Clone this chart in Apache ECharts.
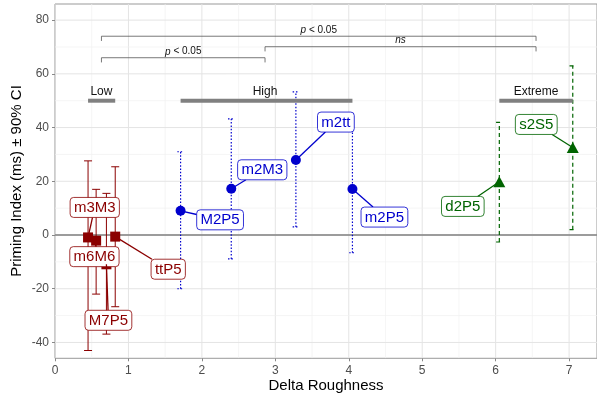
<!DOCTYPE html>
<html><head><meta charset="utf-8">
<script src="https://cdn.jsdelivr.net/npm/echarts@6/dist/echarts.min.js"></script>
<style>html,body{margin:0;padding:0;background:#fff}#c{width:597px;height:398px}</style>
</head><body><div id="c"></div>
<script>
// ---------------- data ----------------
const xTicks = [0, 1, 2, 3, 4, 5, 6, 7];
const yTicks = [-40, -20, 0, 20, 40, 60, 80];

const groupNames = ['Low', 'High', 'Extreme'];

const lowNames  = ['m3M3', 'm6M6', 'M7P5', 'ttP5'];
const lowX      = [0.45, 0.56, 0.70, 0.82];
const lowY      = [-0.9, -2.1, -10.9, -0.6];
const lowLower  = [-43.0, -22.0, -36.9, -26.7];
const lowUpper  = [27.6, 17.0, 15.5, 25.4];

const highNames = ['M2P5', 'm2M3', 'm2tt', 'm2P5'];
const highX     = [1.71, 2.40, 3.28, 4.05];
const highY     = [9.0, 17.2, 27.9, 17.1];
const highLower = [-20.0, -8.9, 3.0, -6.6];
const highUpper = [31.0, 43.2, 53.3, 41.6];

const extremeNames = ['d2P5', 's2S5'];
const extremeX     = [6.05, 7.05];
const extremeY     = [19.8, 32.6];
const extremeLower = [-2.6, 2.0];
const extremeUpper = [41.9, 63.0];

const comparisonFrom = ['Low', 'High', 'Low'];
const comparisonTo   = ['High', 'Extreme', 'Extreme'];
const comparisonText = ['p < 0.05', 'ns', 'p < 0.05'];

// ---------------- layout / style ----------------
const X_MIN = 0, X_MAX = 7.38, Y_MIN = -45.9, Y_MAX = 86.0;
const GROUP_BAR_LEVEL = 50;
const BRACKET_LEVELS = [66.0, 70.1, 74.0];
const LABEL_OFFSETS = {
  Low: [[6.7, -30], [-1.7, 16], [2, 56], [53, 32.6]],
  High: [[39.5, 9], [31, -19], [40, -38], [32, 28]],
  Extreme: [[-36.5, 24.6], [-36.5, -23]]
};
const FONT = '"Liberation Sans", Arial, Helvetica, sans-serif';
const COLORS = { Low: '#8b0000', High: '#0000cd', Extreme: '#006400' };
const SYMBOLS = { Low: ['rect', 10], High: ['circle', 10], Extreme: ['triangle', [12, 11]] };
const ERR_STYLE = { Low: [null, 8, 1], High: [[1.5, 1.8], 6.5, 1.2], Extreme: [[4, 3], 6.5, 1.2] };

const groups = {
  Low: { names: lowNames, x: lowX, y: lowY, lo: lowLower, hi: lowUpper },
  High: { names: highNames, x: highX, y: highY, lo: highLower, hi: highUpper },
  Extreme: { names: extremeNames, x: extremeX, y: extremeY, lo: extremeLower, hi: extremeUpper }
};

const mean = a => a.reduce((s, v) => s + v, 0) / a.length;

const measureCtx = document.createElement('canvas').getContext('2d');
function textWidth(t, font) { measureCtx.font = font; return measureCtx.measureText(t).width; }

// grid lines derived from tick arrays
const gridData = [];
xTicks.forEach(v => gridData.push([v, 0, 1]));
xTicks.forEach(v => { const m = v + 0.5; if (m < X_MAX) gridData.push([m, 0, 0]); });
yTicks.forEach(v => gridData.push([0, v, 1, 1]));
[yTicks[0] - 10].concat(yTicks.map(v => v + 10)).forEach(v => { if (v > Y_MIN && v < Y_MAX) gridData.push([0, v, 0, 1]); });

const series = [];

series.push({
  type: 'custom', name: 'grid', z: 1, silent: true, clip: true,
  data: gridData.map(d => d.length === 4 ? [d[0], d[1], d[2], 1] : [d[0], 0, d[2], 0]),
  renderItem(params, api) {
    const isY = api.value(3) === 1, major = api.value(2) === 1;
    const cs = params.coordSys;
    let shape;
    if (!isY) { const p = api.coord([api.value(0), 0])[0]; shape = { x1: p, y1: cs.y, x2: p, y2: cs.y + cs.height }; }
    else { const p = api.coord([0, api.value(1)])[1]; shape = { x1: cs.x, y1: p, x2: cs.x + cs.width, y2: p }; }
    return { type: 'line', shape, style: { stroke: major ? '#e4e4e4' : '#f1f1f1', lineWidth: major ? 1 : 0.7 } };
  }
});

// zero reference line
series.push({
  type: 'custom', name: 'zero', z: 2, silent: true,
  data: [[0, 0]],
  renderItem(params, api) {
    const cs = params.coordSys; const p = api.coord([0, api.value(1)])[1];
    return { type: 'line', shape: { x1: cs.x, y1: p, x2: cs.x + cs.width, y2: p }, style: { stroke: '#808080', lineWidth: 1.4 } };
  }
});

groupNames.forEach(g => {
  const d = groups[g]; const col = COLORS[g]; const es = ERR_STYLE[g];
  // error bars
  series.push({
    type: 'custom', name: g + ' CI', z: 3, silent: true, clip: true,
    encode: { x: 0, y: [1, 2] },
    data: d.x.map((x, i) => [x, d.lo[i], d.hi[i]]),
    renderItem(params, api) {
      const x = api.value(0);
      const a = api.coord([x, api.value(1)]), b = api.coord([x, api.value(2)]);
      const st = { stroke: col, lineWidth: es[2], lineDash: es[0] || null };
      const c = es[1] / 2;
      return { type: 'group', children: [
        { type: 'line', shape: { x1: a[0], y1: a[1], x2: b[0], y2: b[1] }, style: st },
        { type: 'line', shape: { x1: b[0] - c, y1: b[1], x2: b[0] + c, y2: b[1] }, style: st },
        { type: 'line', shape: { x1: a[0] - c, y1: a[1], x2: a[0] + c, y2: a[1] }, style: st }
      ] };
    }
  });
  // points
  series.push({
    type: 'scatter', name: g, z: 5, silent: true,
    symbol: SYMBOLS[g][0], symbolSize: SYMBOLS[g][1],
    itemStyle: { color: col, opacity: 1 },
    data: d.x.map((x, i) => [x, d.y[i]])
  });
  // repelled labels
  const offs = LABEL_OFFSETS[g];
  const lf = '15px ' + FONT;
  series.push({
    type: 'custom', name: g + ' labels', z: 6, silent: true, clip: false,
    data: d.x.map((x, i) => [x, d.y[i], i]),
    renderItem(params, api) {
      const i = api.value(2); const name = d.names[i];
      const p = api.coord([api.value(0), api.value(1)]);
      const cx = p[0] + offs[i][0], cy = p[1] + offs[i][1];
      const w = textWidth(name, lf) + 7.6, h = 20;
      const vx = cx - p[0], vy = cy - p[1];
      const s = Math.min(vx ? (w / 2) / Math.abs(vx) : Infinity, vy ? (h / 2) / Math.abs(vy) : Infinity);
      const children = [];
      if (s < 1) children.push({ type: 'line', shape: { x1: p[0], y1: p[1], x2: cx - s * vx, y2: cy - s * vy }, style: { stroke: col, lineWidth: 1.3 } });
      children.push({ type: 'rect', shape: { x: cx - w / 2, y: cy - h / 2, width: w, height: h, r: 3.5 }, style: { fill: '#fff', stroke: col, lineWidth: 0.8 } });
      children.push({ type: 'text', style: { text: name, x: cx, y: cy + 0.5, align: 'center', verticalAlign: 'middle', textAlign: 'center', textVerticalAlign: 'middle', fill: col, font: lf } });
      return { type: 'group', children };
    }
  });
});

// group range bars
const groupMin = groupNames.map(g => Math.min(...groups[g].x));
const groupMax = groupNames.map(g => Math.max(...groups[g].x));
const groupMid = groupNames.map(g => mean(groups[g].x));
series.push({
  type: 'custom', name: 'groups', z: 4, silent: true, clip: false,
  encode: { x: [0, 1, 2], y: 3 },
  data: groupNames.map((g, i) => [groupMin[i], groupMax[i], groupMid[i], GROUP_BAR_LEVEL, i]),
  renderItem(params, api) {
    const a = api.coord([api.value(0), api.value(3)]), b = api.coord([api.value(1), api.value(3)]);
    const m = api.coord([api.value(2), api.value(3)]);
    return { type: 'group', children: [
      { type: 'line', shape: { x1: a[0], y1: a[1], x2: b[0], y2: b[1] }, style: { stroke: '#808080', lineWidth: 4 } },
      { type: 'text', style: { text: groupNames[api.value(4)], x: m[0], y: m[1] - 9.5, align: 'center', verticalAlign: 'middle', fill: '#111', font: '12px ' + FONT } }
    ] };
  }
});

// significance brackets
series.push({
  type: 'custom', name: 'brackets', z: 4, silent: true, clip: false,
  encode: { x: [0, 1], y: 2 },
  data: comparisonFrom.map((f, i) => [groupMid[groupNames.indexOf(f)], groupMid[groupNames.indexOf(comparisonTo[i])], BRACKET_LEVELS[i], i]),
  renderItem(params, api) {
    const a = api.coord([api.value(0), api.value(2)]), b = api.coord([api.value(1), api.value(2)]);
    const t = comparisonText[api.value(3)];
    const st = { stroke: '#555', lineWidth: 0.8 };
    const rich = t === 'ns' ? '{i|ns}' : '{i|p}' + t.slice(1);
    return { type: 'group', children: [
      { type: 'polyline', shape: { points: [[a[0], a[1] + 4.7], [a[0], a[1]], [b[0], b[1]], [b[0], b[1] + 4.7]] }, style: Object.assign({ fill: null }, st) },
      { type: 'text', style: { text: rich, x: (a[0] + b[0]) / 2, y: a[1] - 6, align: 'center', verticalAlign: 'middle', fill: '#111', font: '10px ' + FONT,
        rich: { i: { fontStyle: 'italic', fontSize: 10, fontFamily: FONT, fill: '#111' } } } }
    ] };
  }
});

const chart = echarts.init(document.getElementById('c'), null, { renderer: 'canvas' });
chart.setOption({
  animation: false,
  grid: { left: 55, right: 0, top: 4, bottom: 39.7, show: true, borderColor: '#999', borderWidth: 1, backgroundColor: 'transparent' },
  xAxis: {
    type: 'value', min: X_MIN, max: X_MAX,
    axisLine: { show: false, onZero: false },
    splitLine: { show: false },
    axisTick: { show: true, customValues: xTicks, length: 3, lineStyle: { color: '#888' } },
    axisLabel: { customValues: xTicks, color: '#4d4d4d', fontSize: 12, fontFamily: FONT, margin: 6 }
  },
  yAxis: {
    type: 'value', min: Y_MIN, max: Y_MAX,
    axisLine: { show: false, onZero: false },
    splitLine: { show: false },
    axisTick: { show: true, customValues: yTicks, length: 3, lineStyle: { color: '#888' } },
    axisLabel: { customValues: yTicks, color: '#4d4d4d', fontSize: 12, fontFamily: FONT, margin: 6 }
  },
  graphic: [
    { type: 'text', x: 326, y: 386, style: { text: 'Delta Roughness', align: 'center', verticalAlign: 'middle', font: '15px ' + FONT, fill: '#000' } },
    { type: 'text', x: 17, y: 181, rotation: Math.PI / 2, style: { text: 'Priming Index (ms) ± 90% CI', align: 'center', verticalAlign: 'middle', font: '15px ' + FONT, fill: '#000' } }
  ],
  series
});
</script>
</body></html>
